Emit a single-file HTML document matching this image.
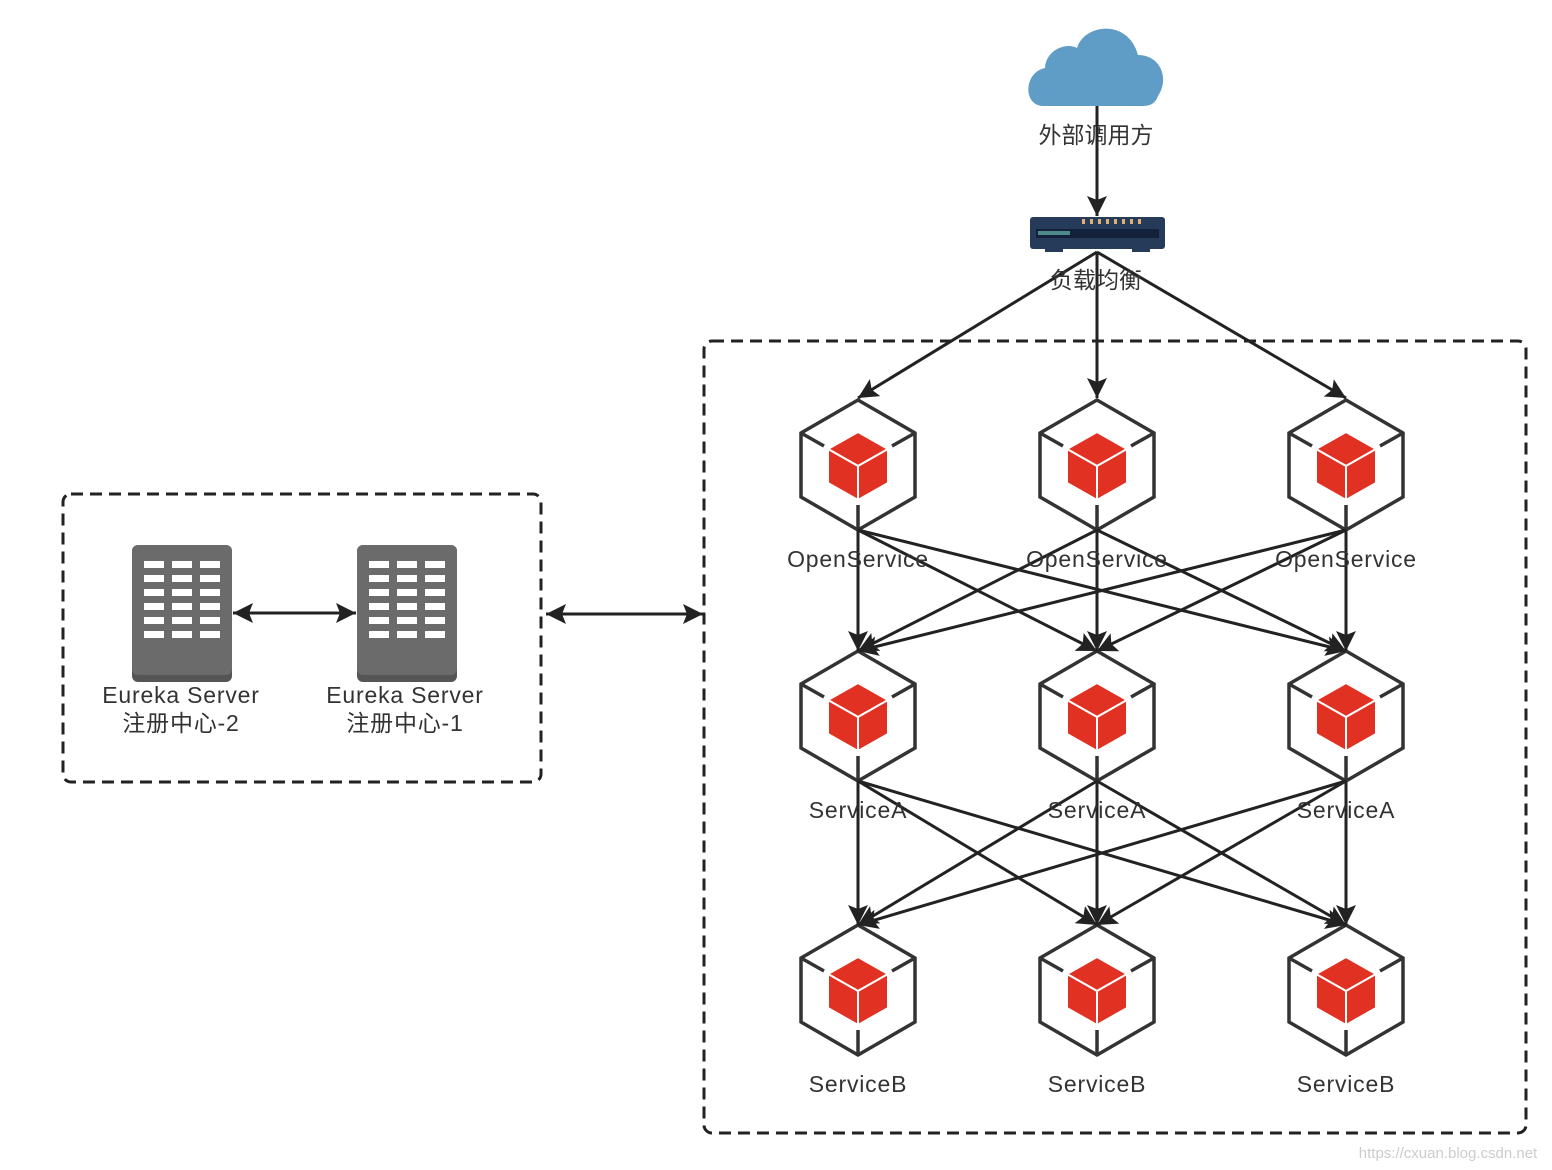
<!DOCTYPE html>
<html><head><meta charset="utf-8"><style>
html,body{margin:0;padding:0;background:#fff;}
svg{display:block;}
text{font-family:"Liberation Sans","Noto Sans CJK SC",sans-serif;fill:#333;}
</style></head><body>
<svg width="1552" height="1170" viewBox="0 0 1552 1170" xmlns="http://www.w3.org/2000/svg">
<defs>
<marker id="a2" viewBox="0 0 10 10" refX="10" refY="5" markerWidth="24" markerHeight="20" markerUnits="userSpaceOnUse" orient="auto-start-reverse">
<path d="M0,0 L10,5 L0,10 L2,5 z" fill="#222"/>
</marker>
<g id="hex">
<polygon points="0,-65 57,-32 57,32 0,65 -57,32 -57,-32" fill="#fff" stroke="#333" stroke-width="3.5"/>
<line x1="-57" y1="-32" x2="-34" y2="-19" stroke="#333" stroke-width="3.5"/>
<line x1="57" y1="-32" x2="34" y2="-19" stroke="#333" stroke-width="3.5"/>
<line x1="0" y1="65" x2="0" y2="40" stroke="#333" stroke-width="3.5"/>
<polygon points="0,-33 30,-16 0,1 -30,-16" fill="#e03123" stroke="#fff" stroke-width="2"/>
<polygon points="-30,-16 0,1 0,35 -30,18" fill="#e03123" stroke="#fff" stroke-width="2"/>
<polygon points="30,-16 0,1 0,35 30,18" fill="#e03123" stroke="#fff" stroke-width="2"/>
</g>
<g id="srv">
<rect x="0" y="0" width="100" height="137" rx="6" fill="#555"/>
<rect x="0" y="0" width="100" height="130" rx="6" fill="#6b6b6b"/>
<g fill="#fff">
<rect x="12" y="16" width="20" height="7"/><rect x="40" y="16" width="20" height="7"/><rect x="68" y="16" width="20" height="7"/>
<rect x="12" y="30" width="20" height="7"/><rect x="40" y="30" width="20" height="7"/><rect x="68" y="30" width="20" height="7"/>
<rect x="12" y="44" width="20" height="7"/><rect x="40" y="44" width="20" height="7"/><rect x="68" y="44" width="20" height="7"/>
<rect x="12" y="58" width="20" height="7"/><rect x="40" y="58" width="20" height="7"/><rect x="68" y="58" width="20" height="7"/>
<rect x="12" y="72" width="20" height="7"/><rect x="40" y="72" width="20" height="7"/><rect x="68" y="72" width="20" height="7"/>
<rect x="12" y="86" width="20" height="7"/><rect x="40" y="86" width="20" height="7"/><rect x="68" y="86" width="20" height="7"/>
</g>
</g>
</defs>

<rect x="704" y="341" width="822" height="792" rx="8" fill="none" stroke="#222" stroke-width="3" stroke-dasharray="12,7"/>
<rect x="63" y="494" width="478" height="288" rx="8" fill="none" stroke="#222" stroke-width="3" stroke-dasharray="12,7"/>

<path d="M1044,106 C1022,106 1024,72 1045,68 C1046,50 1066,42 1077,48 C1084,24 1128,18 1138,55 C1160,55 1170,78 1158,96 C1155,104 1150,106 1142,106 Z" fill="#5f9dc6"/>
<text x="1096" y="143" font-size="23" text-anchor="middle">外部调用方</text>

<rect x="1030" y="217" width="135" height="32" rx="3" fill="#263a5a"/>
<rect x="1036" y="229" width="123" height="9" fill="#13213a"/>
<rect x="1038" y="231" width="32" height="4" fill="#4c8a8c"/>
<g fill="#e0b070"><rect x="1082" y="219" width="3" height="5"/><rect x="1090" y="219" width="3" height="5"/><rect x="1098" y="219" width="3" height="5"/><rect x="1106" y="219" width="3" height="5"/><rect x="1114" y="219" width="3" height="5"/><rect x="1122" y="219" width="3" height="5"/><rect x="1130" y="219" width="3" height="5"/><rect x="1138" y="219" width="3" height="5"/></g>
<rect x="1045" y="249" width="18" height="3" fill="#263a5a"/><rect x="1132" y="249" width="18" height="3" fill="#263a5a"/>

<g stroke="#222" stroke-width="3" fill="none">
<line x1="1097" y1="106" x2="1097" y2="216" marker-end="url(#a2)"/>
<line x1="1097" y1="252" x2="858" y2="398" marker-end="url(#a2)"/>
<line x1="1097" y1="252" x2="1097" y2="398" marker-end="url(#a2)"/>
<line x1="1097" y1="252" x2="1346" y2="398" marker-end="url(#a2)"/>
</g>
<text x="1096" y="288" font-size="23" text-anchor="middle">负载均衡</text>

<use href="#hex" x="858" y="465"/><use href="#hex" x="1097" y="465"/><use href="#hex" x="1346" y="465"/>
<use href="#hex" x="858" y="716"/><use href="#hex" x="1097" y="716"/><use href="#hex" x="1346" y="716"/>
<use href="#hex" x="858" y="990"/><use href="#hex" x="1097" y="990"/><use href="#hex" x="1346" y="990"/>

<g stroke="#222" stroke-width="3" fill="none" marker-end="url(#a2)">
<line x1="858" y1="530" x2="858" y2="651"/><line x1="858" y1="530" x2="1097" y2="651"/><line x1="858" y1="530" x2="1346" y2="651"/>
<line x1="1097" y1="530" x2="858" y2="651"/><line x1="1097" y1="530" x2="1097" y2="651"/><line x1="1097" y1="530" x2="1346" y2="651"/>
<line x1="1346" y1="530" x2="858" y2="651"/><line x1="1346" y1="530" x2="1097" y2="651"/><line x1="1346" y1="530" x2="1346" y2="651"/>
<line x1="858" y1="781" x2="858" y2="925"/><line x1="858" y1="781" x2="1097" y2="925"/><line x1="858" y1="781" x2="1346" y2="925"/>
<line x1="1097" y1="781" x2="858" y2="925"/><line x1="1097" y1="781" x2="1097" y2="925"/><line x1="1097" y1="781" x2="1346" y2="925"/>
<line x1="1346" y1="781" x2="858" y2="925"/><line x1="1346" y1="781" x2="1097" y2="925"/><line x1="1346" y1="781" x2="1346" y2="925"/>
</g>

<g font-size="23" text-anchor="middle" letter-spacing="0.8">
<text x="858" y="567">OpenService</text><text x="1097" y="567">OpenService</text><text x="1346" y="567">OpenService</text>
<text x="858" y="818">ServiceA</text><text x="1097" y="818">ServiceA</text><text x="1346" y="818">ServiceA</text>
<text x="858" y="1092">ServiceB</text><text x="1097" y="1092">ServiceB</text><text x="1346" y="1092">ServiceB</text>
</g>

<use href="#srv" x="132" y="545"/><use href="#srv" x="357" y="545"/>
<g stroke="#222" stroke-width="3">
<line x1="233" y1="613" x2="356" y2="613" marker-start="url(#a2)" marker-end="url(#a2)"/>
<line x1="546" y1="614" x2="703" y2="614" marker-start="url(#a2)" marker-end="url(#a2)"/>
</g>
<g font-size="23" text-anchor="middle" letter-spacing="0.8">
<text x="181" y="703">Eureka Server</text><text x="181" y="731">注册中心-2</text>
<text x="405" y="703">Eureka Server</text><text x="405" y="731">注册中心-1</text>
</g>

<text x="1448" y="1158" font-size="15" text-anchor="middle" style="fill:#ccc">https://cxuan.blog.csdn.net</text>
</svg>
</body></html>
